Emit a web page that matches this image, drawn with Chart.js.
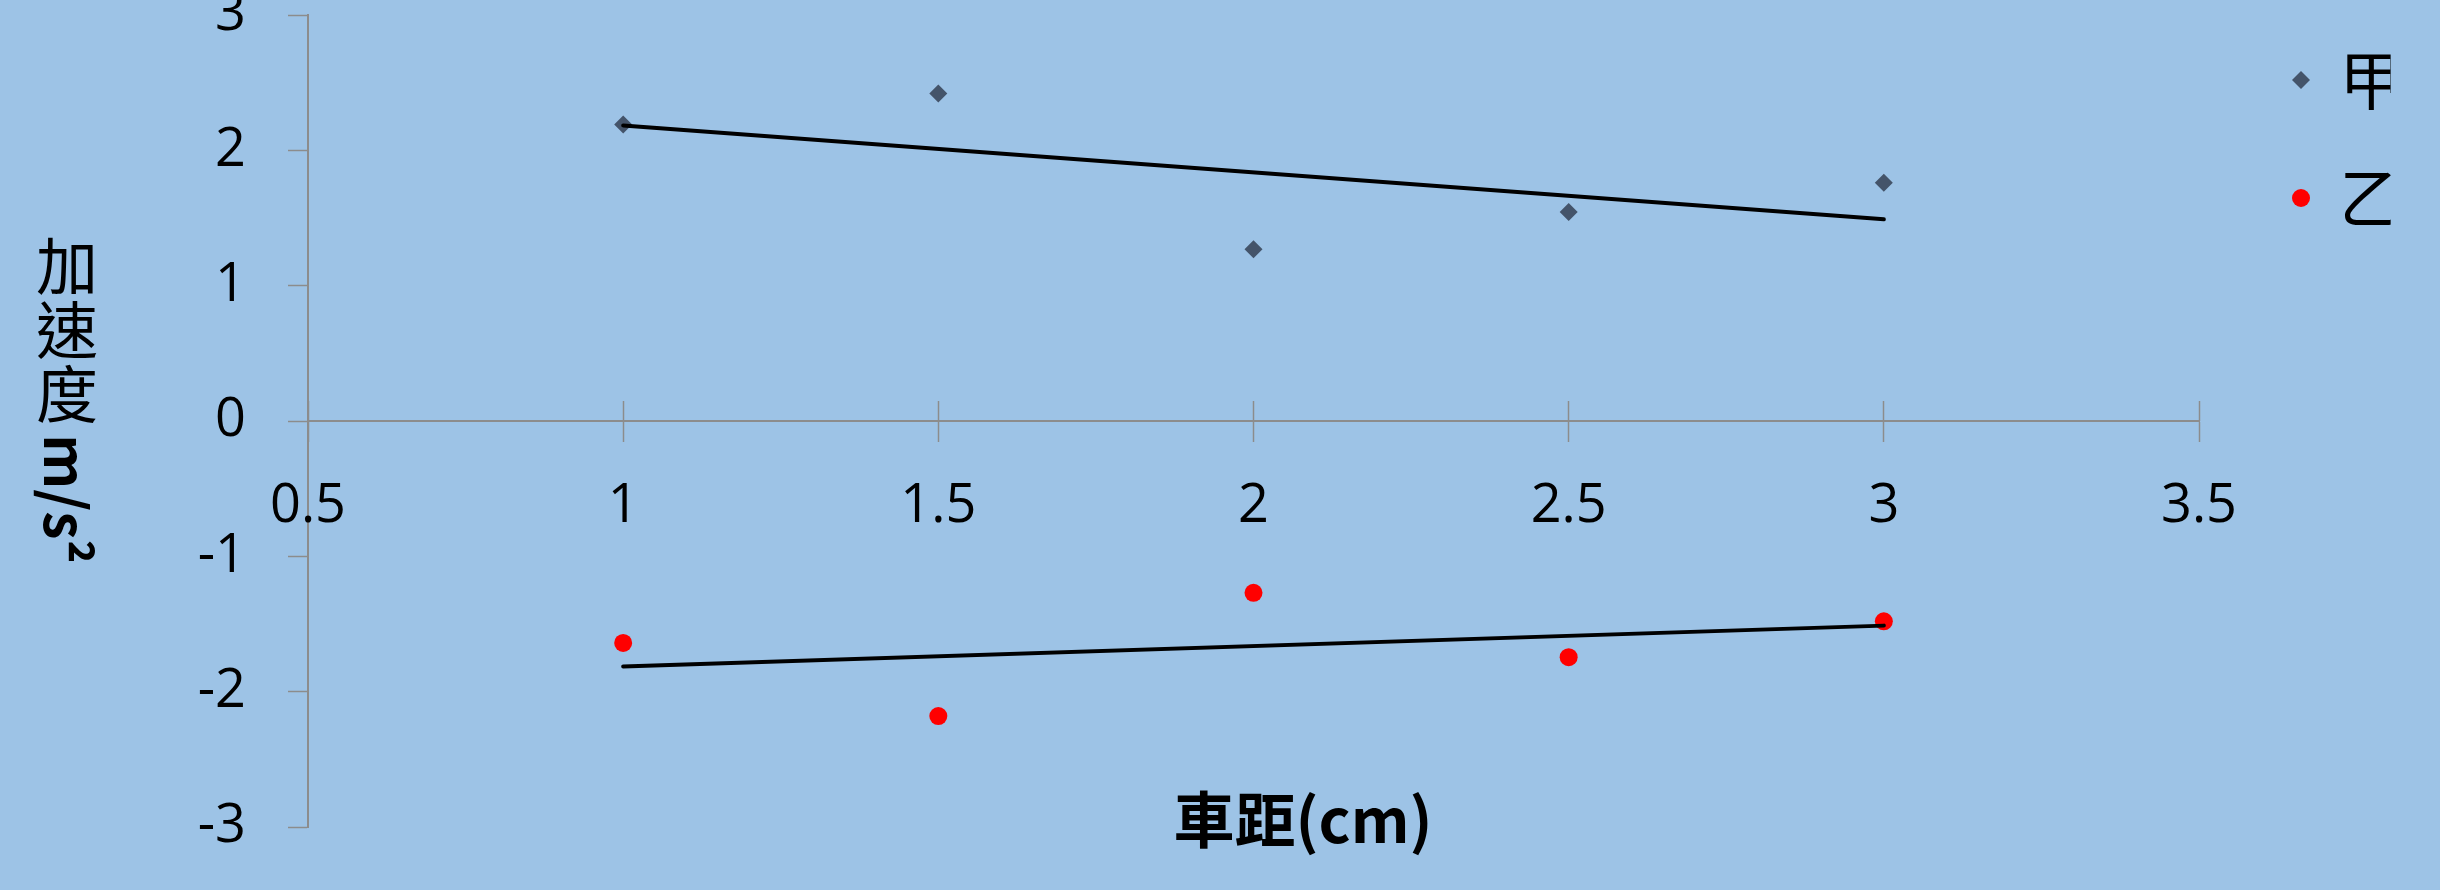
<!DOCTYPE html>
<html>
<head>
<meta charset="utf-8">
<script src="https://cdn.jsdelivr.net/npm/chart.js@4/dist/chart.umd.min.js"></script>
<style>
  html, body { margin: 0; padding: 0; background: #9dc3e6; }
  canvas { display: block; }
</style>
</head>
<body>
<canvas id="grafik" width="2440" height="890"></canvas>
<script>
// ===== data =====
const distance = [1, 1.5, 2, 2.5, 3];
const accelJia = [2.19, 2.42, 1.27, 1.545, 1.76];
const accelYi = [-1.64, -2.18, -1.27, -1.745, -1.48];
const seriesNames = ["甲", "乙"];
const xTickValues = [0.5, 1, 1.5, 2, 2.5, 3, 3.5];
const yTickValues = [-3, -2, -1, 0, 1, 2, 3];
const xTitle = "車距(cm)";
const yTitleChars = ["加", "速", "度"];
const yUnit = "m/s²";

// ===== styles =====
const AXIS_GREY = "#8c8c8c";
const TICK_FONT = { family: '"Open Sans", sans-serif', size: 54 };
const CJK = '"Noto Sans CJK TC", "Noto Sans CJK SC", sans-serif';
const LEGEND_SIZE = 64;

// least squares line through the points, from first x to last x
function trendLine(xs, ys) {
  const n = xs.length;
  const mx = xs.reduce((a, b) => a + b, 0) / n;
  const my = ys.reduce((a, b) => a + b, 0) / n;
  let sxy = 0, sxx = 0;
  xs.forEach((x, i) => {
    sxy += (x - mx) * (ys[i] - my);
    sxx += (x - mx) * (x - mx);
  });
  const k = sxy / sxx;
  return [xs[0], xs[n - 1]].map((x) => ({ x: x, y: my + k * (x - mx) }));
}

const toPoints = (xs, ys) => xs.map((x, i) => ({ x: x, y: ys[i] }));

// ===== axis titles (CJK upright, unit rotated) =====
const axisTitles = {
  id: "axisTitles",
  afterDraw(chart) {
    const ctx = chart.ctx;
    ctx.save();
    ctx.fillStyle = "#000";
    ctx.textAlign = "center";
    ctx.textBaseline = "middle";

    ctx.font = "bold 61px " + CJK;
    ctx.fillText(xTitle, 1303, 820);

    ctx.font = "62px " + CJK;
    yTitleChars.forEach((ch, i) => ctx.fillText(ch, 67, 266 + i * 64));

    ctx.translate(66, 499);
    ctx.rotate(Math.PI / 2);
    ctx.font = "bold 57px " + CJK;
    ctx.fillText(yUnit, 0, 0);
    ctx.restore();
  },
};

// ===== legend placement (top right corner) =====
const legendSpot = {
  id: "legendSpot",
  afterLayout(chart) {
    const lg = chart.legend;
    const pad = lg.options.labels.padding;
    const box = lg.options.labels.boxWidth;
    const w = lg.right - lg.left;
    const h = lg.bottom - lg.top;
    lg.left = 2301 - box / 2 - pad;
    lg.top = 80 - LEGEND_SIZE / 2 - pad;
    lg.right = lg.left + w;
    lg.bottom = lg.top + h;
  },
};

const sameTicks = (values) => (scale) => {
  scale.ticks = values.map((v) => ({ value: v }));
};

new Chart(document.getElementById("grafik"), {
  data: {
    datasets: [
      {
        type: "line",
        label: "trend-" + seriesNames[0],
        data: trendLine(distance, accelJia),
        borderColor: "#000",
        borderWidth: 4,
        borderCapStyle: "round",
        pointRadius: 0,
        order: 0,
      },
      {
        type: "line",
        label: "trend-" + seriesNames[1],
        data: trendLine(distance, accelYi),
        borderColor: "#000",
        borderWidth: 4,
        borderCapStyle: "round",
        pointRadius: 0,
        order: 0,
      },
      {
        type: "scatter",
        label: seriesNames[0],
        data: toPoints(distance, accelJia),
        pointStyle: "rectRot",
        pointRadius: 9,
        backgroundColor: "#44546a",
        borderWidth: 0,
        order: 1,
      },
      {
        type: "scatter",
        label: seriesNames[1],
        data: toPoints(distance, accelYi),
        pointStyle: "circle",
        pointRadius: 9,
        backgroundColor: "#ff0000",
        borderWidth: 0,
        order: 1,
      },
    ],
  },
  options: {
    responsive: false,
    animation: false,
    layout: { padding: { left: 0, top: 15, right: 91, bottom: 63 } },
    plugins: {
      tooltip: { enabled: false },
      legend: {
        position: "right",
        align: "start",
        maxWidth: 150,
        labels: {
          filter: (item) => seriesNames.includes(item.text),
          usePointStyle: true,
          boxWidth: 12.73,
          boxHeight: 12.73,
          padding: 118 - LEGEND_SIZE,
          color: "#000",
          font: { family: CJK, size: LEGEND_SIZE },
        },
      },
    },
    scales: {
      y: {
        type: "linear",
        position: "left",
        min: -3,
        max: 3,
        afterBuildTicks: sameTicks(yTickValues),
        afterFit: (scale) => {
          scale.width = 308;
          scale.paddingTop = 0;
          scale.paddingBottom = 0;
        },
        ticks: { padding: 42, color: "#000", font: TICK_FONT, callback: (v) => String(v) },
        grid: { drawOnChartArea: false, tickLength: 20, tickColor: AXIS_GREY, tickWidth: 1.5 },
        border: { color: AXIS_GREY, width: 2 },
      },
      x: {
        type: "linear",
        axis: "x",
        position: { y: 0 },
        min: 0.5,
        max: 3.5,
        afterBuildTicks: sameTicks(xTickValues),
        ticks: { padding: 33, color: "#000", font: TICK_FONT, maxRotation: 0, callback: (v) => String(v) },
        grid: { drawOnChartArea: false, tickLength: 20, tickColor: AXIS_GREY, tickWidth: 1.5 },
        border: { color: AXIS_GREY, width: 2 },
      },
      // upper half of the crossing tick marks
      xUp: {
        type: "linear",
        axis: "x",
        position: { y: 0 },
        min: 0.5,
        max: 3.5,
        afterBuildTicks: sameTicks(xTickValues),
        ticks: { display: false },
        grid: { drawOnChartArea: false, tickLength: -20, tickColor: AXIS_GREY, tickWidth: 1.5 },
        border: { display: false },
      },
    },
  },
  plugins: [axisTitles, legendSpot],
});
</script>
</body>
</html>
